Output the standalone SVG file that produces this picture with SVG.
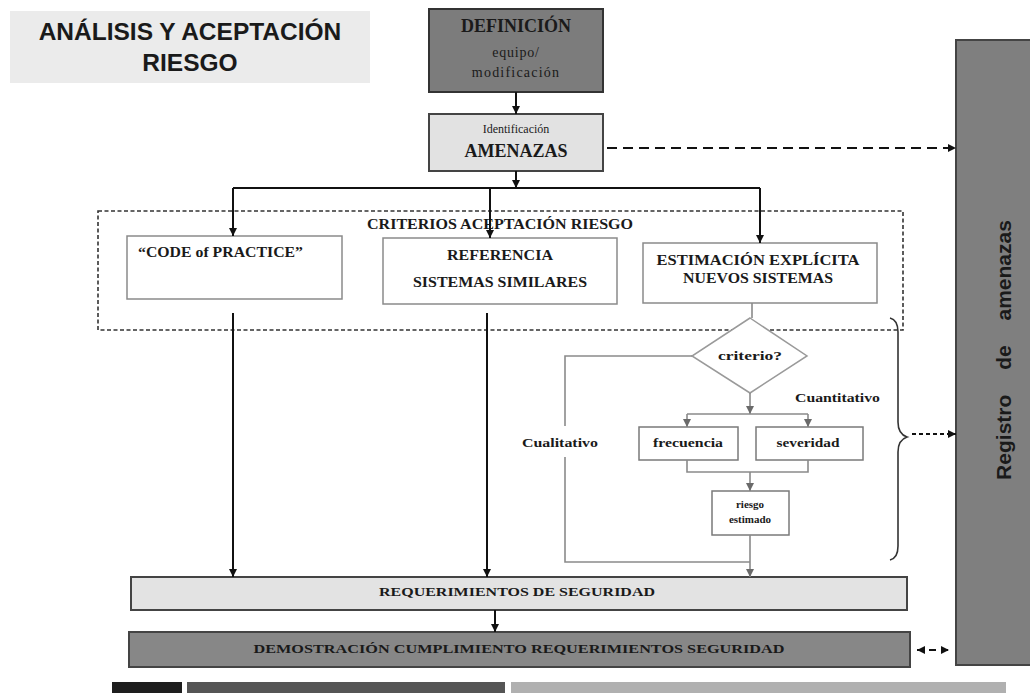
<svg xmlns="http://www.w3.org/2000/svg" width="1030" height="693" viewBox="0 0 1030 693">
<style>
.serifb{font-family:"Liberation Serif","Times New Roman",serif;font-weight:bold;fill:#1a1a1a}
.serif{font-family:"Liberation Serif","Times New Roman",serif;fill:#1a1a1a}
.sans{font-family:"Liberation Sans",Arial,sans-serif;font-weight:bold;fill:#1a1a1a}
.blk{stroke:#111;stroke-width:2;fill:none}
.gry{stroke:#8a8a8a;stroke-width:1.6;fill:none}
.box{fill:#fff;stroke:#8a8a8a;stroke-width:1.5}
.sbox{fill:#fff;stroke:#7a7a7a;stroke-width:1.5}
</style>
<defs>
<marker id="ah" markerUnits="userSpaceOnUse" markerWidth="9" markerHeight="9" refX="8" refY="4" orient="auto"><path d="M0,0 L8,4 L0,8 z" fill="#111"/></marker>
<marker id="ahs" markerUnits="userSpaceOnUse" markerWidth="9" markerHeight="9" refX="0" refY="4" orient="auto"><path d="M8,0 L0,4 L8,8 z" fill="#111"/></marker>
<marker id="ag" markerUnits="userSpaceOnUse" markerWidth="9" markerHeight="9" refX="8" refY="4" orient="auto"><path d="M0,0 L8,4 L0,8 z" fill="#6a6a6a"/></marker>
</defs>

<g id="title">
<rect x="10" y="11" width="360" height="72" fill="#ebebeb"/>
<text class="sans" x="190" y="40" font-size="24.5" text-anchor="middle">ANÁLISIS Y ACEPTACIÓN</text>
<text class="sans" x="190" y="71" font-size="24.5" text-anchor="middle">RIESGO</text>
</g>

<g id="definicion">
<rect x="429" y="9" width="174" height="83" fill="#7c7c7c" stroke="#333" stroke-width="2"/>
<text class="serifb" x="516" y="32" font-size="18" text-anchor="middle">DEFINICIÓN</text>
<text class="serif" x="516" y="57" font-size="14" text-anchor="middle" letter-spacing="0.8">equipo/</text>
<text class="serif" x="516" y="77" font-size="14" text-anchor="middle" letter-spacing="1.2">modificación</text>
</g>

<g id="identificacion">
<rect x="429" y="114" width="174" height="57" fill="#e2e2e2" stroke="#444" stroke-width="2"/>
<text class="serif" x="516" y="133" font-size="12" text-anchor="middle">Identificación</text>
<text class="serifb" x="516" y="157" font-size="18" text-anchor="middle">AMENAZAS</text>
</g>

<g id="criterios">
<rect x="98" y="211" width="805" height="119" fill="none" stroke="#333" stroke-width="1.6" stroke-dasharray="4,2.5"/>
<text class="serifb" x="500" y="229" font-size="14" text-anchor="middle" textLength="266" lengthAdjust="spacingAndGlyphs">CRITERIOS ACEPTACIÓN RIESGO</text>
</g>

<g id="code">
<rect class="box" x="127" y="236" width="215" height="63"/>
<text class="serifb" x="138" y="257" font-size="14" textLength="165" lengthAdjust="spacingAndGlyphs">“CODE of PRACTICE”</text>
</g>

<g id="referencia">
<rect class="box" x="383" y="238" width="234" height="66"/>
<text class="serifb" x="500" y="260" font-size="14" text-anchor="middle" textLength="106" lengthAdjust="spacingAndGlyphs">REFERENCIA</text>
<text class="serifb" x="500" y="287" font-size="14" text-anchor="middle" textLength="174" lengthAdjust="spacingAndGlyphs">SISTEMAS SIMILARES</text>
</g>

<g id="estimacion">
<rect class="box" x="643" y="243" width="234" height="60"/>
<text class="serifb" x="758" y="265" font-size="14" text-anchor="middle" textLength="203" lengthAdjust="spacingAndGlyphs">ESTIMACIÓN EXPLÍCITA</text>
<text class="serifb" x="758" y="283" font-size="14" text-anchor="middle" textLength="150" lengthAdjust="spacingAndGlyphs">NUEVOS SISTEMAS</text>
</g>

<g id="criterio">
<polygon points="750,318 807,356 750,393 692,356" fill="#fff" stroke="#9a9a9a" stroke-width="1.5"/>
<text class="serifb" x="750" y="360" font-size="12" text-anchor="middle" textLength="64" lengthAdjust="spacingAndGlyphs">criterio?</text>
</g>

<g id="frecuencia">
<rect class="sbox" x="639" y="427" width="99" height="33"/>
<text class="serifb" x="688" y="447" font-size="12.5" text-anchor="middle" textLength="70" lengthAdjust="spacingAndGlyphs">frecuencia</text>
</g>

<g id="severidad">
<rect class="sbox" x="756" y="427" width="107" height="33"/>
<text class="serifb" x="808" y="447" font-size="12.5" text-anchor="middle" textLength="63" lengthAdjust="spacingAndGlyphs">severidad</text>
</g>

<g id="riesgo">
<rect class="sbox" x="712" y="491" width="77" height="44"/>
<text class="serifb" x="750" y="508" font-size="11" text-anchor="middle">riesgo</text>
<text class="serifb" x="750" y="523" font-size="11" text-anchor="middle">estimado</text>
</g>

<g id="requerimientos">
<rect x="131" y="577" width="776" height="33" fill="#e3e3e3" stroke="#444" stroke-width="2"/>
<text class="serifb" x="517" y="596" font-size="13" text-anchor="middle" textLength="276" lengthAdjust="spacingAndGlyphs">REQUERIMIENTOS DE SEGURIDAD</text>
</g>

<g id="demostracion">
<rect x="129" y="632" width="781" height="35" fill="#878787" stroke="#444" stroke-width="2"/>
<text class="serifb" x="519" y="653" font-size="13" text-anchor="middle" textLength="531" lengthAdjust="spacingAndGlyphs">DEMOSTRACIÓN CUMPLIMIENTO REQUERIMIENTOS SEGURIDAD</text>
</g>

<g id="registro">
<rect x="956" y="40" width="80" height="625" fill="#7f7f7f" stroke="#444" stroke-width="2"/>
<text class="sans" x="0" y="0" font-size="21" text-anchor="middle" transform="translate(1011,350) rotate(-90)" word-spacing="19">Registro de amenazas</text>
</g>

<g id="bars">
<rect x="112" y="682" width="70" height="11" fill="#1e1e1e"/>
<rect x="187" y="682" width="318" height="11" fill="#555"/>
<rect x="511" y="682" width="495" height="11" fill="#b0b0b0"/>
</g>

<g id="connectors">
<path class="blk" d="M516,92 V114" marker-end="url(#ah)"/>
<path class="blk" d="M516,171 V188" marker-end="url(#ah)"/>
<path class="blk" d="M233,188 H760"/>
<path class="blk" d="M233,188 V236" marker-end="url(#ah)"/>
<path class="blk" d="M490,188 V238" marker-end="url(#ah)"/>
<path class="blk" d="M760,188 V243" marker-end="url(#ah)"/>
<path class="blk" d="M233,313 V577" marker-end="url(#ah)"/>
<path class="blk" d="M487,313 V577" marker-end="url(#ah)"/>
<path class="blk" d="M495,610 V632" marker-end="url(#ah)"/>
<path class="blk" d="M607,148 H956" stroke-width="2.5" stroke-dasharray="10,6" marker-end="url(#ah)"/>
<path class="blk" d="M912,434 H956" stroke-width="1.6" stroke-dasharray="4,3" marker-end="url(#ah)"/>
<path class="blk" d="M917,650 H949" stroke-width="2.2" stroke-dasharray="7,5" marker-start="url(#ahs)" marker-end="url(#ah)"/>
<path class="gry" d="M752,303 V318"/>
<path class="gry" d="M692,356 H565 V562 H750"/>
<path class="gry" d="M750,535 V577" marker-end="url(#ag)"/>
<path class="gry" d="M750,393 V414" marker-end="url(#ag)"/>
<path class="gry" d="M687,414 H808"/>
<path class="gry" d="M687,414 V427" marker-end="url(#ag)"/>
<path class="gry" d="M808,414 V427" marker-end="url(#ag)"/>
<path class="gry" d="M687,460 V472 H808 V460"/>
<path class="gry" d="M750,472 V491" marker-end="url(#ag)"/>
<path d="M890,318 Q898,320 898,332 V422 Q898,434 907,437 Q898,440 898,452 V546 Q898,558 890,560" fill="none" stroke="#333" stroke-width="1.6"/>
<rect x="512" y="426" width="100" height="31" fill="#fff"/>
<text class="serifb" x="522" y="447" font-size="12.5" textLength="76" lengthAdjust="spacingAndGlyphs">Cualitativo</text>
<text class="serifb" x="795" y="402" font-size="13" textLength="85" lengthAdjust="spacingAndGlyphs">Cuantitativo</text>
</g>
</svg>
